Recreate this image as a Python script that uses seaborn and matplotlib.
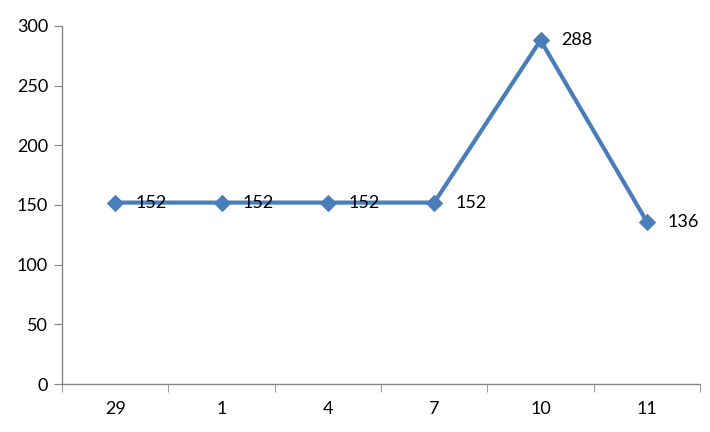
import matplotlib
matplotlib.use("Agg")
import matplotlib.pyplot as plt
import numpy as np
import pandas as pd
import seaborn as sns

categories = ["29", "1", "4", "7", "10", "11"]
values = [152, 152, 152, 152, 288, 136]

sns.set_style("white")
plt.rcParams["font.family"] = ["Lato", "DejaVu Sans"]
plt.rcParams["text.color"] = "black"
plt.rcParams["xtick.color"] = "black"
plt.rcParams["ytick.color"] = "black"

df = pd.DataFrame({"pos": np.arange(len(categories)), "value": values})

fig = plt.figure(figsize=(7.1, 4.32), dpi=100)
ax = fig.add_axes([0.0873, 0.111, 0.8987, 0.829])

sns.lineplot(data=df, x="pos", y="value", ax=ax, color="#4a7ebb", linewidth=3,
             marker="D", markersize=8, markeredgecolor="#4a7ebb", sort=False)

for x, y in zip(df["pos"], df["value"]):
    ax.annotate(str(y), (x, y), xytext=(15, 0), textcoords="offset points",
                va="center", ha="left", fontsize=13, color="black")

ax.set_xlim(-0.5, len(categories) - 0.5)
ax.set_ylim(0, 300)
ax.set_yticks(range(0, 301, 50))
ax.set_xticks(df["pos"])
ax.set_xticklabels(categories)
ax.set_xticks(np.arange(-0.5, len(categories)), minor=True)
ax.tick_params(axis="x", which="major", length=0, pad=12, labelsize=13, labelcolor="black")
ax.tick_params(axis="x", which="minor", length=6, color="#868686", direction="out", bottom=True)
ax.tick_params(axis="y", length=6, color="#868686", direction="out", left=True,
               labelsize=13, labelcolor="black", pad=4)
ax.set_xlabel("")
ax.set_ylabel("")

for side in ["top", "right"]:
    ax.spines[side].set_visible(False)
for side in ["left", "bottom"]:
    ax.spines[side].set_color("#868686")
    ax.spines[side].set_linewidth(1)

fig.savefig("out.png", dpi=100)
